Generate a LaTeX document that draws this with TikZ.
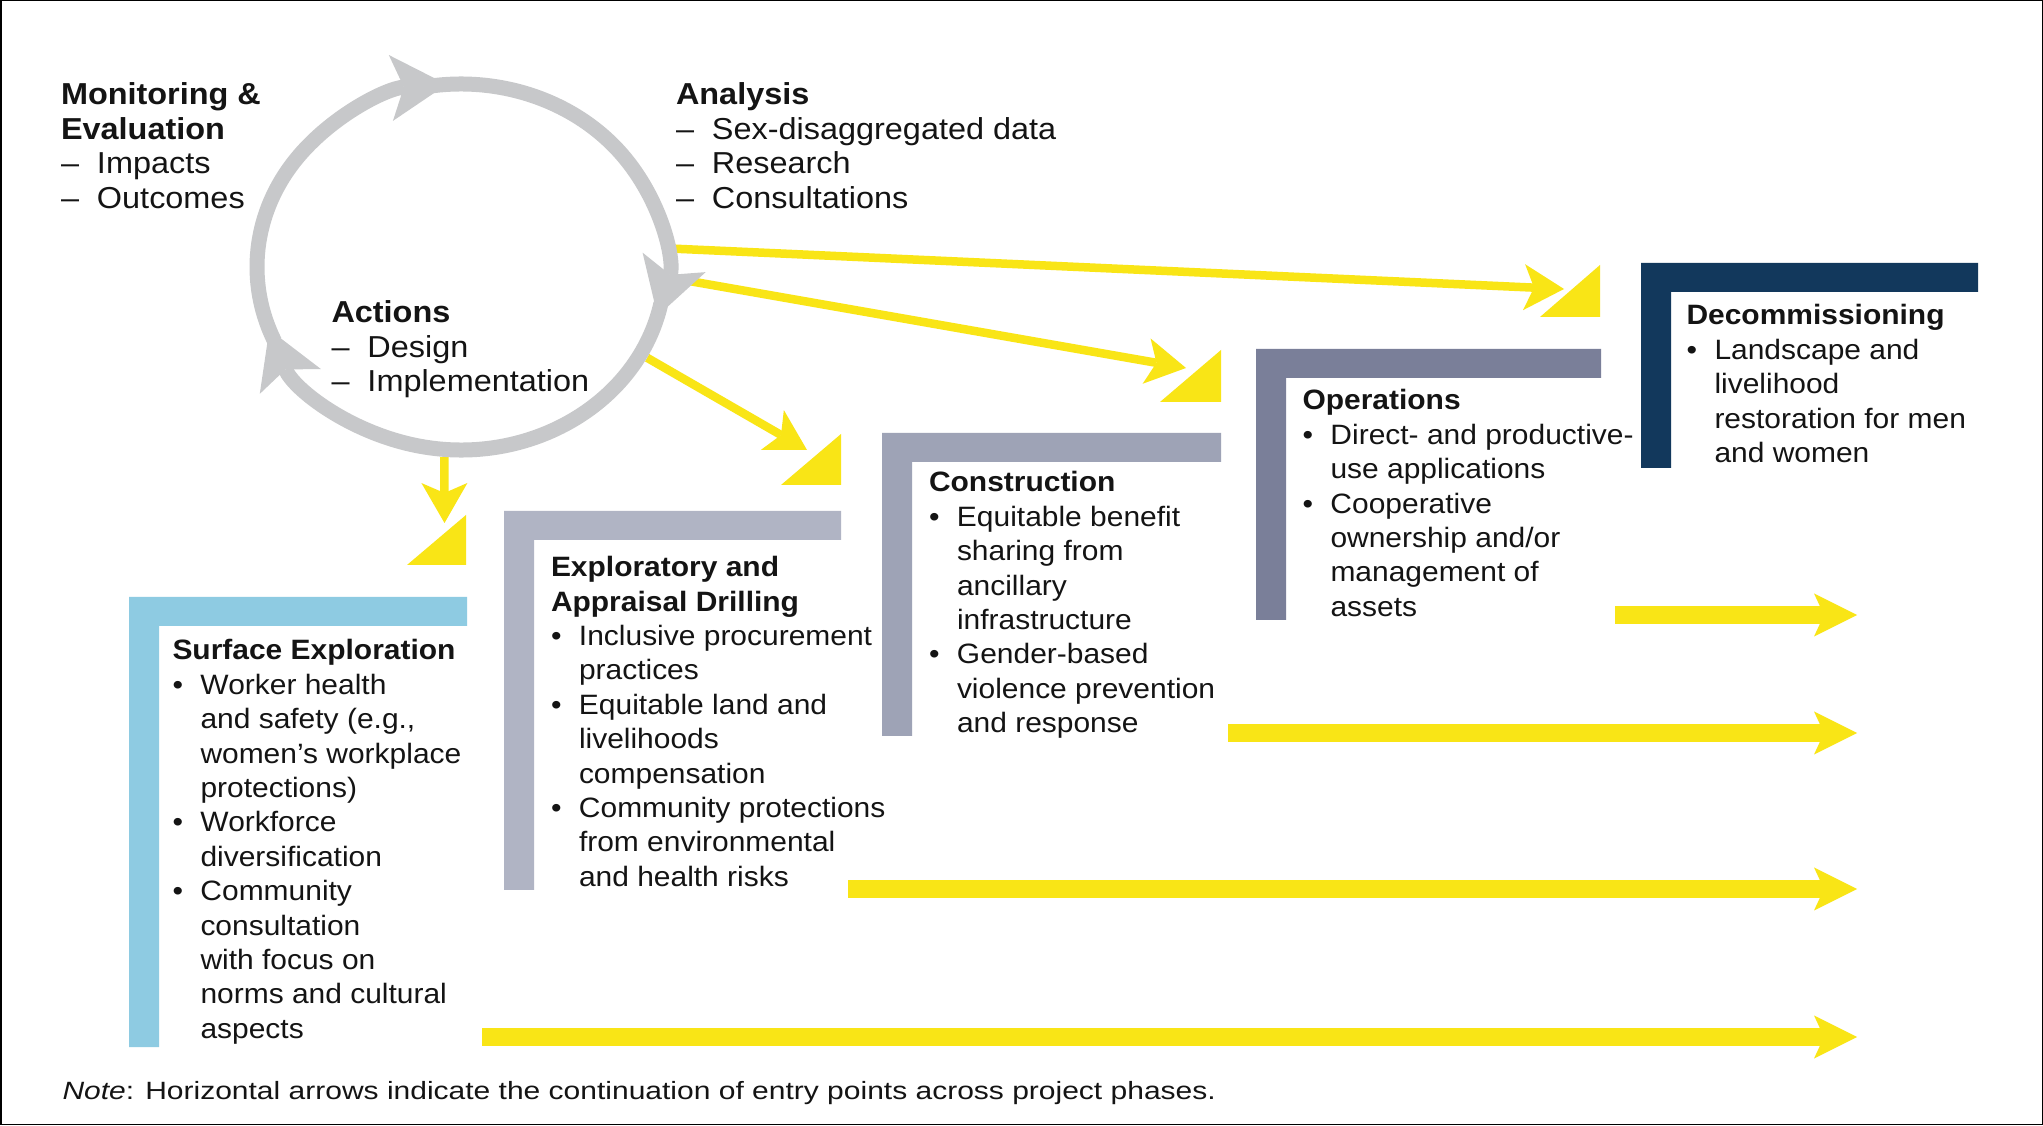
\documentclass[tikz,border=0pt]{standalone}
\usepackage{fontspec}
\setmainfont{Liberation Sans}[FakeStretch=1.07]
\newfontfamily\notefont{Liberation Sans}[FakeStretch=1.2]
\usetikzlibrary{arrows.meta,shapes.geometric,calc}

\definecolor{ringgray}{RGB}{199,200,202}
\definecolor{sunyellow}{RGB}{249,229,22}
\definecolor{phaseA}{RGB}{142,203,226}
\definecolor{phaseB}{RGB}{176,180,196}
\definecolor{phaseC}{RGB}{158,163,182}
\definecolor{phaseD}{RGB}{122,127,153}
\definecolor{phaseE}{RGB}{18,56,92}
\definecolor{ink}{RGB}{20,20,20}

\newcommand{\bodysize}{\fontsize{28pt}{34.4pt}\selectfont}
\newcommand{\cyclesize}{\fontsize{30.3pt}{34.4pt}\selectfont}
% bullet, continuation indent and dash for the item lists
\newcommand{\bl}{\makebox[28pt][l]{•}}
\newcommand{\cn}{\hspace*{28pt}}
\newcommand{\dl}{\makebox[36pt][l]{–}}
\newcommand{\blk}[1]{{\bodysize\begin{tabular}[t]{@{}l@{}}#1\end{tabular}}}
\newcommand{\cblk}[1]{{\cyclesize\begin{tabular}[t]{@{}l@{}}#1\end{tabular}}}
% L-shaped phase bar: colour, left, top, right, bottom
\newcommand{\phasebar}[5]{\fill[#1] (#2,#3) -- (#4,#3) -- (#4,#3-29) -- (#2+30,#3-29) -- (#2+30,#5) -- (#2,#5) -- cycle;}

\tikzset{
  txt/.style={anchor=base west, inner sep=0pt, outer sep=0pt, text=ink},
  ringline/.style={draw=ringgray, line width=15pt,
    -{Stealth[length=56pt, width=66pt, inset=13pt, line width=0pt]}},
  feed/.style={draw=sunyellow, line width=8.5pt,
    -{Stealth[length=40pt, width=46pt, inset=10pt, line width=0pt]}},
  carry/.style={draw=sunyellow, line width=18pt,
    -{Stealth[length=43pt, width=43pt, inset=10pt, line width=0pt]}},
  wedge/.style={fill=sunyellow},
}

\begin{document}
\begin{tikzpicture}[x=1pt, y=1pt]
\useasboundingbox (0,0) rectangle (2043,1125);
\fill[white] (0,0) rectangle (2043,1125);
\draw[black, line width=1.5pt] (0.75,0.75) rectangle (2042.25,1124.25);

% phase bars
\phasebar{phaseA}{129}{528}{467}{78}
\phasebar{phaseB}{504}{614}{841}{235}
\phasebar{phaseC}{882}{692}{1221}{389}
\phasebar{phaseD}{1256}{776}{1601}{505}
\phasebar{phaseE}{1641}{862}{1978}{657}

% entry-point wedges
\fill[wedge] (466,610) -- (466,560) -- (407,560) -- cycle;
\fill[wedge] (841,691) -- (841,640) -- (781,640) -- cycle;
\fill[wedge] (1221,775) -- (1221,723) -- (1160,723) -- cycle;
\fill[wedge] (1600,860) -- (1600,808) -- (1540,808) -- cycle;

% cycle outline used as anchor for the feed arrows
\node[draw=none, ellipse, minimum width=423pt, minimum height=381pt, inner sep=0pt] (ring) at (461,858) {};

\coordinate (t1) at (444.5,602);
\coordinate (t2) at (807,675);
\coordinate (t3) at (1186,757);
\coordinate (t4) at (1564,836);

\draw[feed] (ring.-95) -- (t1);
\draw[feed] (ring.-26) -- (t2);
\draw[feed] (ring.-3) -- (t3);
\draw[feed] (ring.5) -- (t4);

% continuation arrows
\coordinate (c1s) at (1615,510); \coordinate (c1e) at (1857,510);
\coordinate (c2s) at (1228,392); \coordinate (c2e) at (1857,392);
\coordinate (c3s) at (848,236);  \coordinate (c3e) at (1857,236);
\coordinate (c4s) at (482,88);   \coordinate (c4e) at (1857,88);
\draw[carry] (c1s) -- (c1e);
\draw[carry] (c2s) -- (c2e);
\draw[carry] (c3s) -- (c3e);
\draw[carry] (c4s) -- (c4e);

% the cycle: three clockwise arcs, each starting inside the previous head
\draw[ringline] ($(ring.center)+(204:204pt and 183pt)$) arc[start angle=204, end angle=94, x radius=204pt, y radius=183pt];
\draw[ringline] ($(ring.center)+(98:204pt and 183pt)$) arc[start angle=98, end angle=-15.5, x radius=204pt, y radius=183pt];
\draw[ringline] ($(ring.center)+(-11.5:204pt and 183pt)$) arc[start angle=-11.5, end angle=-160, x radius=204pt, y radius=183pt];

% cycle labels
\node[txt] (mon) at (61,1020) {\cblk{\textbf{Monitoring \&}\\ \textbf{Evaluation}\\ \dl Impacts\\ \dl Outcomes}};
\node[txt] (ana) at (676,1020) {\cblk{\textbf{Analysis}\\ \dl Sex-disaggregated data\\ \dl Research\\ \dl Consultations}};
\node[txt] (act) at (331.5,802.3) {\cblk{\textbf{Actions}\\ \dl Design\\ \dl Implementation}};

% phase texts
\node[txt] (surf) at (172.5,465) {\blk{\textbf{Surface Exploration}\\
  \bl Worker health\\ \cn and safety (e.g.,\\ \cn women’s workplace\\ \cn protections)\\
  \bl Workforce\\ \cn diversification\\
  \bl Community\\ \cn consultation\\ \cn with focus on\\ \cn norms and cultural\\ \cn aspects}};
\node[txt] (expl) at (551,548.3) {\blk{\textbf{Exploratory and}\\ \textbf{Appraisal Drilling}\\
  \bl Inclusive procurement\\ \cn practices\\
  \bl Equitable land and\\ \cn livelihoods\\ \cn compensation\\
  \bl Community protections\\ \cn from environmental\\ \cn and health risks}};
\node[txt] (cons) at (929,633) {\blk{\textbf{Construction}\\
  \bl Equitable benefit\\ \cn sharing from\\ \cn ancillary\\ \cn infrastructure\\
  \bl Gender-based\\ \cn violence prevention\\ \cn and response}};
\node[txt] (oper) at (1302.5,715) {\blk{\textbf{Operations}\\
  \bl Direct- and productive-\\ \cn use applications\\
  \bl Cooperative\\ \cn ownership and/or\\ \cn management of\\ \cn assets}};
\node[txt] (deco) at (1686.5,800) {\blk{\textbf{Decommissioning}\\
  \bl Landscape and\\ \cn livelihood\\ \cn restoration for men\\ \cn and women}};

\node[txt, font=\notefont\fontsize{25pt}{30pt}\selectfont] (note) at (62.5,26)
  {\textit{Note}: Horizontal arrows indicate the continuation of entry points across project phases.};
\end{tikzpicture}
\end{document}
